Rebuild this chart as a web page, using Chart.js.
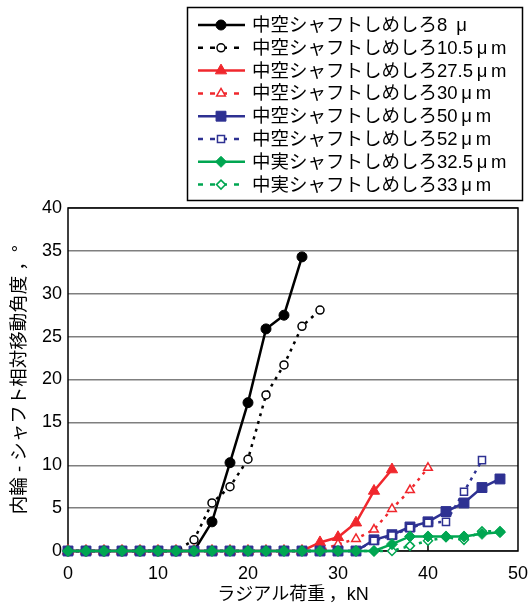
<!DOCTYPE html>
<html>
<head>
<meta charset="utf-8">
<script src="https://cdn.jsdelivr.net/npm/chart.js@4"></script>
<style>
  html, body { margin: 0; padding: 0; background: #fff; }
  #wrap { width: 532px; height: 606px; }
</style>
</head>
<body>
<div id="wrap"><canvas id="chart" width="532" height="606"></canvas></div>
<script>
// radial load, kN
const loads = [0, 2, 4, 6, 8, 10, 12, 14, 16, 18, 20, 22, 24, 26, 28, 30, 32, 34, 36, 38, 40, 42, 44, 46, 48];

// relative rotation angle, deg (null = no measurement)
const hollow8 = [0, 0, 0, 0, 0, 0, 0, 0, 3.4, 10.3, 17.3, 25.9, 27.5, 34.3, null, null, null, null, null, null, null, null, null, null, null];
const hollow10_5 = [0, 0, 0, 0, 0, 0, 0, 1.3, 5.6, 7.5, 10.7, 18.2, 21.7, 26.2, 28.1, null, null, null, null, null, null, null, null, null, null];
const hollow27_5 = [0, 0, 0, 0, 0, 0, 0, 0, 0, 0, 0, 0, 0, 0, 1.0, 1.6, 3.3, 7.0, 9.5, null, null, null, null, null, null];
const hollow30 = [0, 0, 0, 0, 0, 0, 0, 0, 0, 0, 0, 0, 0, 0, 0, 0.8, 1.4, 2.5, 4.9, 7.1, 9.7, null, null, null, null];
const hollow50 = [0, 0, 0, 0, 0, 0, 0, 0, 0, 0, 0, 0, 0, 0, 0, 0, 0, 1.3, 1.9, 2.8, 3.4, 4.6, 5.6, 7.4, 8.4];
const hollow52 = [0, 0, 0, 0, 0, 0, 0, 0, 0, 0, 0, 0, 0, 0, 0, 0, 0, 1.2, 1.8, 2.7, 3.3, 3.4, 6.9, 10.6, null];
const solid32_5 = [0, 0, 0, 0, 0, 0, 0, 0, 0, 0, 0, 0, 0, 0, 0, 0, 0, 0, 0.8, 1.7, 1.7, 1.7, 1.7, 2.0, 2.2];
const solid33 = [0, 0, 0, 0, 0, 0, 0, 0, 0, 0, 0, 0, 0, 0, 0, 0, 0, 0, 0, 0.6, 1.2, 1.6, 1.3, 2.3, 2.3];

const seriesNames = [
  "中空シャフトしめしろ8\u2009 μ",
  "中空シャフトしめしろ10.5\u2009μ\u2009m",
  "中空シャフトしめしろ27.5\u2009μ\u2009m",
  "中空シャフトしめしろ30\u2009μ\u2009m",
  "中空シャフトしめしろ50\u2009μ\u2009m",
  "中空シャフトしめしろ52\u2009μ\u2009m",
  "中実シャフトしめしろ32.5\u2009μ\u2009m",
  "中実シャフトしめしろ33\u2009μ\u2009m"
];

const xTicks = [0, 10, 20, 30, 40, 50];
const yTicks = [0, 5, 10, 15, 20, 25, 30, 35, 40];

const BLACK = "#000000";
const RED = "#f0272d";
const BLUE = "#2e3192";
const GREEN = "#00a651";

const toPoints = (ys) => loads.map((x, i) => ({ x: x, y: ys[i] })).filter(p => p.y !== null && p.y !== undefined);

const makeSet = (label, ys, color, dashed, style, radius, open, order) => ({
  label: label,
  data: toPoints(ys),
  borderColor: color,
  backgroundColor: color,
  borderWidth: 2.5,
  borderDash: dashed ? [3, 5] : [],
  pointStyle: style,
  pointRadius: radius,
  pointBorderColor: color,
  pointBackgroundColor: open ? "#ffffff" : color,
  pointBorderWidth: open ? 1.5 : 1,
  tension: 0,
  fill: false,
  clip: false,
  order: order
});

const datasets = [
  makeSet(seriesNames[0], hollow8, BLACK, false, "circle", 5, false, 7),
  makeSet(seriesNames[1], hollow10_5, BLACK, true, "circle", 4, true, 6),
  makeSet(seriesNames[2], hollow27_5, RED, false, "triangle", 6.5, false, 5),
  makeSet(seriesNames[3], hollow30, RED, true, "triangle", 5, true, 4),
  makeSet(seriesNames[4], hollow50, BLUE, false, "rect", 7, false, 3),
  makeSet(seriesNames[5], hollow52, BLUE, true, "rect", 5, true, 2),
  makeSet(seriesNames[6], solid32_5, GREEN, false, "rectRot", 5.5, false, 0),
  makeSet(seriesNames[7], solid33, GREEN, true, "rectRot", 4.5, true, 1)
];

const latin = '"Liberation Sans", "Noto Sans CJK JP", sans-serif';

const decor = {
  id: "decor",
  beforeDatasetsDraw(chart) {
    const { ctx, chartArea: a } = chart;
    ctx.save();
    ctx.strokeStyle = "#000";
    ctx.lineWidth = 1.5;
    ctx.strokeRect(a.left, a.top, a.right - a.left, a.bottom - a.top);
    xTicks.slice(1, -1).forEach(v => {
      const px = chart.scales.x.getPixelForValue(v);
      ctx.beginPath();
      ctx.moveTo(px, a.bottom);
      ctx.lineTo(px, a.bottom - 6);
      ctx.stroke();
    });
    ctx.restore();
  },
  afterDraw(chart) {
    const ctx = chart.ctx;
    const box = { x: 187.5, y: 7.5, w: 335, h: 193 };
    ctx.save();
    ctx.fillStyle = "#fff";
    ctx.fillRect(box.x, box.y, box.w, box.h);
    ctx.strokeStyle = "#000";
    ctx.lineWidth = 1.5;
    ctx.strokeRect(box.x, box.y, box.w, box.h);
    chart.data.datasets.forEach((ds, i) => {
      const y = 25 + i * 22.8;
      ctx.strokeStyle = ds.borderColor;
      ctx.lineWidth = 2.5;
      ctx.setLineDash(ds.borderDash.length ? [5, 7] : []);
      ctx.beginPath();
      ctx.moveTo(198, y);
      ctx.lineTo(245, y);
      ctx.stroke();
      ctx.setLineDash([]);
      ctx.fillStyle = ds.pointBackgroundColor;
      ctx.strokeStyle = ds.pointBorderColor;
      ctx.lineWidth = ds.pointBorderWidth;
      Chart.helpers.drawPoint(ctx, { pointStyle: ds.pointStyle, radius: ds.pointRadius, rotation: 0, borderWidth: ds.pointBorderWidth }, 221, y);
      ctx.fillStyle = "#000";
      ctx.font = "18.5px " + latin;
      ctx.textBaseline = "middle";
      ctx.textAlign = "left";
      ctx.fillText(ds.label, 252, y + 1);
    });
    ctx.restore();
  }
};

new Chart(document.getElementById("chart"), {
  type: "line",
  data: { datasets: datasets },
  plugins: [decor],
  options: {
    responsive: false,
    animation: false,
    events: [],
    layout: { padding: { top: 208, right: 10, left: 0, bottom: 0 } },
    plugins: {
      legend: { display: false },
      tooltip: { enabled: false }
    },
    scales: {
      x: {
        type: "linear",
        min: 0,
        max: 50,
        afterBuildTicks: (s) => { s.ticks = xTicks.map(v => ({ value: v })); },
        afterFit: (s) => { s.height = 55; },
        grid: { display: false },
        border: { display: false },
        ticks: { color: "#000", font: { family: latin, size: 18 }, padding: 4, maxRotation: 0 },
        title: {
          display: true,
          text: "ラジアル荷重\u2009，kN",
          color: "#000",
          font: { family: latin, size: 18 },
          padding: { top: 2, bottom: 0 }
        }
      },
      y: {
        min: 0,
        max: 40,
        afterBuildTicks: (s) => { s.ticks = yTicks.map(v => ({ value: v })); },
        afterFit: (s) => { s.width = 68; },
        grid: { color: "#7f7f7f", lineWidth: 1.5, drawTicks: false },
        border: { display: false },
        ticks: { color: "#000", font: { family: latin, size: 18 }, padding: 6 },
        title: {
          display: true,
          text: "内輪 - シャフト相対移動角度 ，°",
          color: "#000",
          font: { family: latin, size: 18.5 },
          padding: { top: 9, bottom: 0 }
        }
      }
    }
  }
});
</script>
</body>
</html>
